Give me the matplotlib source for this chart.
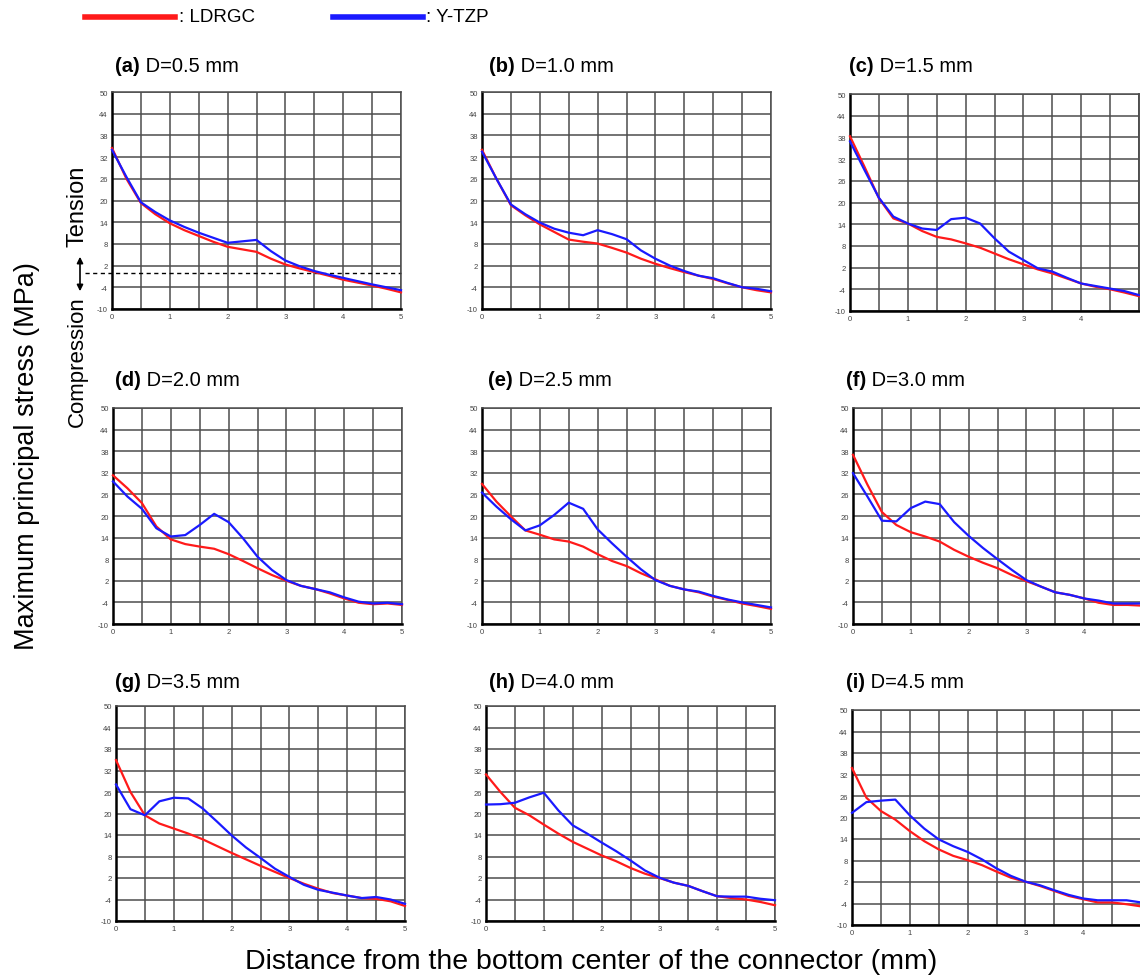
import matplotlib
matplotlib.use("Agg")
import matplotlib.pyplot as plt
from matplotlib.ticker import MultipleLocator, FixedLocator

plt.rcParams['font.family'] = ['Liberation Sans', 'DejaVu Sans']
plt.rcParams['axes.unicode_minus'] = False

# ---------------- data ----------------
distance = [0, 0.25, 0.5, 0.75, 1.0, 1.25, 1.5, 1.75, 2.0, 2.25, 2.5,
            2.75, 3.0, 3.25, 3.5, 3.75, 4.0, 4.25, 4.5, 4.75, 5.0]

panel_labels = ["(a)", "(b)", "(c)", "(d)", "(e)", "(f)", "(g)", "(h)", "(i)"]
panel_d = ["D=0.5 mm", "D=1.0 mm", "D=1.5 mm", "D=2.0 mm", "D=2.5 mm",
           "D=3.0 mm", "D=3.5 mm", "D=4.0 mm", "D=4.5 mm"]

ldrgc_a = [34.5, 26.0, 19.3, 16.2, 13.7, 11.8, 10.2, 8.6, 7.2, 6.5, 5.8, 3.9, 2.3, 1.2, 0.2, -0.8, -1.9, -2.7, -3.5, -4.4, -5.4]
ytzp_a  = [34.0, 26.5, 19.5, 16.8, 14.5, 12.7, 11.1, 9.7, 8.3, 8.7, 9.1, 6.0, 3.4, 1.8, 0.5, -0.5, -1.4, -2.3, -3.2, -4.0, -4.8]

ldrgc_b = [34.0, 26.0, 18.7, 15.9, 13.4, 11.3, 9.2, 8.6, 8.1, 6.9, 5.6, 3.9, 2.5, 1.3, 0.2, -0.8, -1.7, -2.9, -4.0, -4.8, -5.4]
ytzp_b  = [33.5, 26.0, 18.9, 16.2, 13.9, 12.2, 11.1, 10.4, 11.8, 10.7, 9.3, 6.2, 3.9, 2.0, 0.5, -0.8, -1.5, -2.8, -4.0, -4.4, -5.1]

ldrgc_c = [38.3, 29.9, 21.2, 15.6, 14.2, 12.1, 10.5, 9.8, 8.7, 7.5, 5.9, 4.3, 2.9, 1.5, 0.4, -1.0, -2.4, -3.3, -4.0, -4.9, -5.9]
ytzp_c  = [36.9, 29.0, 21.3, 16.1, 14.2, 12.8, 12.4, 15.4, 15.8, 14.2, 10.1, 6.4, 4.1, 1.8, 0.9, -0.8, -2.4, -3.1, -3.8, -4.5, -5.6]

ldrgc_d = [31.3, 27.7, 23.6, 17.1, 13.5, 12.2, 11.5, 10.9, 9.4, 7.5, 5.5, 3.6, 2.0, 0.6, -0.3, -1.5, -2.9, -4.1, -4.5, -4.3, -4.7]
ytzp_d  = [29.6, 25.4, 22.0, 16.6, 14.3, 14.7, 17.5, 20.6, 18.3, 13.8, 8.7, 5.0, 2.2, 0.6, -0.3, -1.2, -2.6, -3.8, -4.3, -4.1, -4.5]

ldrgc_e = [28.9, 24.0, 19.9, 16.0, 14.8, 13.5, 12.9, 11.5, 9.4, 7.5, 6.1, 4.1, 2.4, 0.6, -0.4, -1.2, -2.4, -3.3, -4.3, -5.0, -5.8]
ytzp_e  = [26.5, 22.6, 19.1, 16.0, 17.4, 20.3, 23.7, 22.0, 16.3, 12.4, 8.7, 5.2, 2.2, 0.6, -0.4, -1.0, -2.2, -3.2, -4.0, -4.7, -5.4]

ldrgc_f = [37.0, 28.7, 21.1, 17.5, 15.5, 14.3, 12.9, 10.6, 8.7, 7.0, 5.5, 3.6, 1.9, 0.4, -1.2, -1.9, -2.9, -4.1, -4.7, -4.7, -4.9]
ytzp_f  = [31.9, 25.4, 18.7, 18.5, 22.2, 24.0, 23.3, 18.3, 14.5, 11.1, 8.0, 5.0, 2.2, 0.4, -1.2, -1.9, -2.9, -3.5, -4.3, -4.3, -4.3]

ldrgc_g = [34.9, 26.0, 19.5, 17.2, 15.8, 14.4, 12.8, 10.9, 9.0, 7.2, 5.4, 3.7, 2.0, 0.4, -1.0, -2.2, -2.9, -3.6, -3.8, -4.5, -5.8]
ytzp_g  = [28.1, 21.2, 19.5, 23.4, 24.4, 24.2, 21.4, 17.7, 13.9, 10.5, 7.6, 4.6, 2.3, 0.1, -1.3, -2.1, -2.9, -3.6, -3.3, -4.0, -5.2]

ldrgc_h = [30.9, 26.0, 21.6, 19.5, 16.9, 14.4, 12.1, 10.2, 8.3, 6.7, 4.8, 3.2, 2.0, 0.7, -0.2, -1.7, -3.1, -3.6, -4.0, -4.7, -5.6]
ytzp_h  = [22.5, 22.6, 23.0, 24.5, 25.8, 20.9, 16.7, 14.4, 11.9, 9.5, 6.9, 4.1, 2.1, 0.7, -0.2, -1.7, -3.1, -3.2, -3.2, -3.8, -4.2]

ldrgc_i = [33.8, 25.5, 21.8, 19.4, 16.2, 13.4, 11.1, 9.3, 8.1, 6.7, 4.9, 3.2, 2.1, 0.9, -0.5, -1.9, -2.8, -3.7, -3.7, -4.2, -4.8]
ytzp_i  = [21.3, 24.3, 24.7, 25.0, 20.6, 16.9, 13.9, 12.0, 10.4, 8.3, 5.8, 3.7, 2.1, 1.1, -0.3, -1.6, -2.6, -3.1, -3.1, -3.1, -3.7]

ldrgc_all = [ldrgc_a, ldrgc_b, ldrgc_c, ldrgc_d, ldrgc_e, ldrgc_f, ldrgc_g, ldrgc_h, ldrgc_i]
ytzp_all = [ytzp_a, ytzp_b, ytzp_c, ytzp_d, ytzp_e, ytzp_f, ytzp_g, ytzp_h, ytzp_i]

y_ticks = [50, 44, 38, 32, 26, 20, 14, 8, 2, -4, -10]
x_ticks = [0, 1, 2, 3, 4, 5]
x_ticks_cut = [0, 1, 2, 3, 4]   # right column: the "5" falls off the page

# ---------------- layout (pixels) ----------------
W, H = 1140, 978
fig = plt.figure(figsize=(W / 100, H / 100), dpi=100)

boxes = [(112, 93, 310), (482, 93, 310), (850, 95, 312),
         (113, 409, 625), (482, 409, 625), (853, 409, 625),
         (116, 707, 922), (486, 707, 922), (852, 711, 926)]
title_pos = [(115, 66), (489, 66), (849, 66),
             (115, 381), (488, 381), (846, 381),
             (115, 683), (489, 683), (846, 683)]
AX_W = 289

RED = '#ff1a1a'
BLUE = '#1a1aff'

for k in range(9):
    L, T, B = boxes[k]
    ax = fig.add_axes([L / W, 1 - B / H, AX_W / W, (B - T) / H])
    ax.plot(distance, ldrgc_all[k], color=RED, lw=1.6, zorder=3, clip_on=False)
    ax.plot(distance, ytzp_all[k], color=BLUE, lw=1.6, zorder=4, clip_on=False)
    ax.set_xlim(0, 5)
    ax.set_ylim(-10, 50)
    ax.yaxis.set_major_locator(FixedLocator(y_ticks))
    ax.xaxis.set_major_locator(FixedLocator(x_ticks))
    ax.xaxis.set_minor_locator(MultipleLocator(0.5))
    ax.grid(True, which='both', color='#4d4d4d', lw=1.1)
    ax.set_axisbelow(True)
    ax.tick_params(axis='both', which='both', length=0, labelsize=5.5,
                   labelcolor='#444444', pad=3)
    if k % 3 == 2:
        ax.set_xticks(x_ticks_cut)
        ax.set_xticklabels([str(v) for v in x_ticks_cut])
        ax.axvline(5, color='#4d4d4d', lw=1.1, clip_on=False)
    for s in ['top', 'right']:
        ax.spines[s].set_color('#4d4d4d')
        ax.spines[s].set_linewidth(1.1)
    for s in ['left', 'bottom']:
        ax.spines[s].set_color('black')
        ax.spines[s].set_linewidth(1.8)
    if k == 0:
        ax.axhline(0, xmin=-0.095, xmax=1, color='black', lw=1.0,
                   ls=(0, (3, 2.5)), clip_on=False, zorder=2)
    tx, ty = title_pos[k]
    t1 = fig.text(tx / W, 1 - ty / H, panel_labels[k], fontsize=14.5,
                  fontweight='bold', va='center', ha='left')
    ax.annotate(" " + panel_d[k], xy=(1, 0.5), xycoords=t1, va='center',
                ha='left', fontsize=14.5, annotation_clip=False)

# legend at top
fig.add_artist(plt.Line2D([85 / W, 175 / W], [1 - 18 / H, 1 - 18 / H],
                          color=RED, lw=4))
fig.text(179 / W, 1 - 18 / H, ": LDRGC", fontsize=13.5, va='center', ha='left')
fig.add_artist(plt.Line2D([333 / W, 423 / W], [1 - 18 / H, 1 - 18 / H],
                          color=BLUE, lw=4))
fig.text(426 / W, 1 - 18 / H, ": Y-TZP", fontsize=13.5, va='center', ha='left')

# Tension / Compression annotation
fig.text(77 / W, 1 - 206 / H, "Tension", rotation=90, fontsize=17,
         va='center', ha='center')
fig.text(77 / W, 1 - 362 / H, "Compression", rotation=90, fontsize=16,
         va='center', ha='center')
fig.add_artist(matplotlib.patches.FancyArrowPatch(
    (80 / W, 1 - 255 / H), (80 / W, 1 - 295 / H), transform=fig.transFigure,
    arrowstyle='<|-|>', mutation_scale=9, color='black', lw=1.2))

# main axis labels
fig.text(27 / W, 1 - 456 / H, "Maximum principal stress (MPa)", rotation=90,
         fontsize=19.5, va='center', ha='center')
fig.text(591 / W, 1 - 962 / H,
         "Distance from the bottom center of the connector (mm)",
         fontsize=20.5, va='center', ha='center')

fig.savefig("out.png", dpi=100)
